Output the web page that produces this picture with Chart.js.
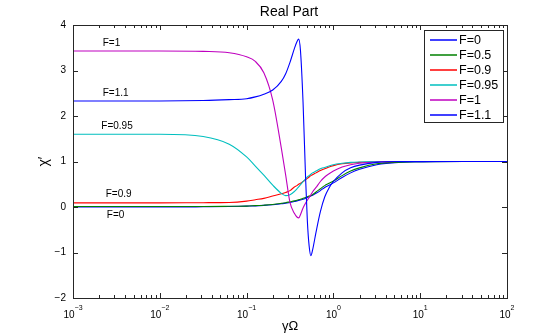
<!DOCTYPE html>
<html><head><meta charset="utf-8">
<script src="https://cdn.jsdelivr.net/npm/chart.js@4.4.1/dist/chart.umd.min.js"></script>
<style>html,body{margin:0;padding:0;background:#fff;}#wrap{width:559px;height:336px;}</style>
</head><body><div id="wrap"><canvas id="c" width="559" height="336"></canvas></div>
<script>
// γΩ sample positions (log-spaced)
const frequencies = [0.001, 0.00316, 0.01, 0.0316, 0.0631, 0.1, 0.126, 0.158, 0.2, 0.251, 0.282, 0.316, 0.355, 0.38, 0.398, 0.417, 0.447, 0.479, 0.501, 0.525, 0.55, 0.575, 0.631, 0.708, 0.794, 0.891, 1, 1.26, 1.58, 2, 3.16, 5.62, 10, 31.6, 100];
const seriesF0   = [0, 0, 0, 0.005, 0.01, 0.02, 0.025, 0.035, 0.05, 0.07, 0.085, 0.1, 0.12, 0.135, 0.145, 0.155, 0.17, 0.19, 0.21, 0.225, 0.24, 0.26, 0.3, 0.36, 0.43, 0.48, 0.53, 0.65, 0.75, 0.83, 0.93, 0.98, 0.99, 1, 1];
const seriesF05  = [0.01, 0.01, 0.01, 0.01, 0.015, 0.02, 0.03, 0.04, 0.055, 0.08, 0.095, 0.115, 0.135, 0.15, 0.16, 0.17, 0.19, 0.21, 0.225, 0.24, 0.255, 0.27, 0.33, 0.4, 0.47, 0.52, 0.57, 0.69, 0.79, 0.86, 0.95, 0.985, 0.995, 1, 1];
const seriesF09  = [0.09, 0.09, 0.09, 0.095, 0.1, 0.13, 0.16, 0.19, 0.24, 0.29, 0.32, 0.36, 0.44, 0.47, 0.5, 0.52, 0.56, 0.6, 0.63, 0.66, 0.69, 0.71, 0.75, 0.8, 0.84, 0.88, 0.91, 0.95, 0.97, 0.98, 0.995, 1, 1, 1, 1];
const seriesF095 = [1.6, 1.6, 1.6, 1.55, 1.38, 1.1, 0.9, 0.7, 0.48, 0.3, 0.25, 0.27, 0.34, 0.4, 0.44, 0.49, 0.56, 0.62, 0.66, 0.69, 0.72, 0.75, 0.79, 0.84, 0.87, 0.9, 0.93, 0.96, 0.98, 0.99, 1, 1, 1, 1, 1];
const seriesF1   = [3.43, 3.43, 3.43, 3.42, 3.39, 3.3, 3.2, 2.95, 2.35, 1.3, 0.7, 0.1, -0.14, -0.22, -0.24, -0.17, -0.02, 0.09, 0.15, 0.21, 0.27, 0.33, 0.43, 0.56, 0.66, 0.73, 0.79, 0.88, 0.93, 0.96, 0.99, 1, 1, 1, 1];
const seriesF11  = [2.33, 2.33, 2.33, 2.34, 2.36, 2.38, 2.42, 2.48, 2.57, 2.76, 2.93, 3.18, 3.48, 3.63, 3.69, 3.45, 2.3, 0.6, -0.3, -0.85, -1.07, -0.95, -0.55, -0.1, 0.22, 0.42, 0.56, 0.75, 0.86, 0.92, 0.98, 1, 1, 1, 1];

const seriesLabels = ['F=0', 'F=0.5', 'F=0.9', 'F=0.95', 'F=1', 'F=1.1'];
const seriesValues = [seriesF0, seriesF05, seriesF09, seriesF095, seriesF1, seriesF11];
const seriesColors = ['#0000ff', '#008000', '#ff0000', '#00bfbf', '#bf00bf', '#0000ff'];

const xTickValues = [0.001, 0.01, 0.1, 1, 10, 100];
const xTickExponents = ['\u22123', '\u22122', '\u22121', '0', '1', '2'];
const yTickValues = [-2, -1, 0, 1, 2, 3, 4];

const annotationTexts = ['F=1', 'F=1.1', 'F=0.95', 'F=0.9', 'F=0'];
const annotationX = [0.0022, 0.0022, 0.00212, 0.00238, 0.00245];
const annotationY = [3.59, 2.51, 1.78, 0.29, -0.18];

const datasets = seriesValues.map((vals, i) => ({
  label: seriesLabels[i],
  data: frequencies.map((f, j) => ({x: f, y: vals[j]})),
  borderColor: seriesColors[i],
  backgroundColor: seriesColors[i],
  borderWidth: 1.1,
  pointRadius: 0,
  fill: false,
  cubicInterpolationMode: 'monotone',
  order: seriesValues.length - i
}));

const FONT = '"Liberation Sans", Arial, Helvetica, sans-serif';

const decor = {
  id: 'decor',
  afterDatasetsDraw(chart) {
    const {ctx, chartArea: a, scales: {x, y}} = chart;
    ctx.save();
    // box
    ctx.strokeStyle = '#262626';
    ctx.lineWidth = 1;
    ctx.strokeRect(Math.round(a.left) + 0.5, Math.round(a.top) + 0.5, Math.round(a.right - a.left), Math.round(a.bottom - a.top));
    ctx.beginPath();
    xTickValues.forEach((v, idx) => {
      const px = Math.round(x.getPixelForValue(v)) + 0.5;
      ctx.moveTo(px, a.bottom); ctx.lineTo(px, a.bottom - 5);
      ctx.moveTo(px, a.top); ctx.lineTo(px, a.top + 5);
      if (idx < xTickValues.length - 1) {
        for (let k = 2; k <= 9; k++) {
          const mx = Math.round(x.getPixelForValue(v * k)) + 0.5;
          ctx.moveTo(mx, a.bottom); ctx.lineTo(mx, a.bottom - 3);
          ctx.moveTo(mx, a.top); ctx.lineTo(mx, a.top + 3);
        }
      }
    });
    yTickValues.forEach(v => {
      const py = Math.round(y.getPixelForValue(v)) + 0.5;
      ctx.moveTo(a.left, py); ctx.lineTo(a.left + 5, py);
      ctx.moveTo(a.right, py); ctx.lineTo(a.right - 5, py);
    });
    ctx.stroke();
    // x tick labels: 10 with superscript exponent
    ctx.fillStyle = '#000';
    ctx.textBaseline = 'alphabetic';
    ctx.textAlign = 'left';
    xTickValues.forEach((v, i) => {
      const px = x.getPixelForValue(v);
      ctx.font = '10px ' + FONT;
      const wb = ctx.measureText('10').width;
      ctx.font = '7px ' + FONT;
      const we = ctx.measureText(xTickExponents[i]).width;
      const x0 = px - (wb + we) / 2;
      ctx.font = '10px ' + FONT;
      ctx.fillText('10', x0, a.bottom + 19.5);
      ctx.font = '7px ' + FONT;
      ctx.fillText(xTickExponents[i], x0 + wb, a.bottom + 12);
    });
    // annotations
    ctx.font = '10px ' + FONT;
    ctx.textBaseline = 'middle';
    annotationTexts.forEach((t, i) => {
      ctx.fillText(t, x.getPixelForValue(annotationX[i]), y.getPixelForValue(annotationY[i]));
    });
    // title
    ctx.font = '14px ' + FONT;
    ctx.textAlign = 'center';
    ctx.textBaseline = 'alphabetic';
    ctx.fillText('Real Part', (a.left + a.right) / 2 - 1, 16);
    // legend
    const bw = 79, bh = 92;
    const bx = Math.round(a.right) - 4 - bw, by = Math.round(a.top) + 5;
    ctx.fillStyle = '#fff';
    ctx.fillRect(bx, by, bw, bh);
    ctx.strokeStyle = '#262626';
    ctx.lineWidth = 1;
    ctx.strokeRect(bx + 0.5, by + 0.5, bw, bh);
    ctx.font = '12.5px ' + FONT;
    ctx.textAlign = 'left';
    ctx.textBaseline = 'middle';
    chart.data.datasets.forEach((ds, i) => {
      const ry = by + 10 + i * 15;
      ctx.strokeStyle = ds.borderColor;
      ctx.lineWidth = 1.5;
      ctx.beginPath();
      ctx.moveTo(bx + 6, ry); ctx.lineTo(bx + 33, ry);
      ctx.stroke();
      ctx.fillStyle = '#000';
      ctx.fillText(ds.label, bx + 35, ry + 1);
    });
    ctx.restore();
  }
};

new Chart(document.getElementById('c'), {
  type: 'line',
  data: {datasets},
  options: {
    responsive: false,
    animation: false,
    devicePixelRatio: 1,
    layout: {padding: {left: 0, right: 52, top: 25, bottom: 0}},
    plugins: {legend: {display: false}, tooltip: {enabled: false}, title: {display: false}},
    scales: {
      x: {
        type: 'logarithmic',
        min: 0.001, max: 100,
        afterBuildTicks: (s) => { s.ticks = xTickValues.map(v => ({value: v})); },
        afterFit: (s) => { s.height = 38; },
        grid: {display: false, drawTicks: false},
        border: {display: false},
        ticks: {display: false},
        title: {display: true, text: 'γΩ', color: '#000', font: {family: FONT, size: 13}, padding: {top: 0, bottom: 2}}
      },
      y: {
        type: 'linear',
        min: -2, max: 4,
        afterBuildTicks: (s) => { s.ticks = yTickValues.map(v => ({value: v})); },
        afterFit: (s) => { s.width = 73; },
        grid: {display: false, drawTicks: false},
        border: {display: false},
        ticks: {
          padding: 7, color: '#000',
          font: {family: FONT, size: 10},
          callback: (v) => v < 0 ? '\u2212' + (-v) : String(v)
        },
        title: {display: true, text: 'χ′', color: '#000', font: {family: FONT, size: 14}, padding: {top: 36, bottom: 0}}
      }
    }
  },
  plugins: [decor]
});
</script>
</body></html>
